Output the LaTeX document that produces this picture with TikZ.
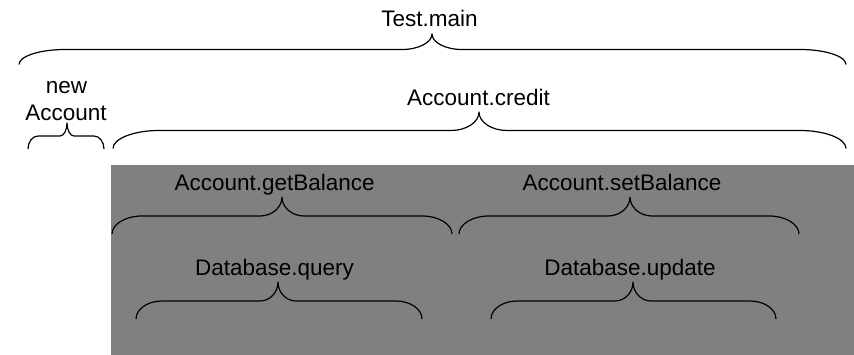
\documentclass[tikz,border=0pt]{standalone}
\usepackage{fontspec}
\setmainfont{Liberation Sans}
\tikzset{
  bracestyle/.style={draw=black, line width=1.2pt, line join=round},
  calllabel/.style={anchor=base, inner sep=0pt, font=\fontsize{22.5}{27}\selectfont},
}
% Curly brace opening downwards.
% #1 left x, #2 right x, #3 tip x, #4 tip y, #5 bar y, #6 end y,
% #7 width of the end curls, #8 width of the tip curls
\newcommand{\callbrace}[8]{%
  \draw[bracestyle] (#1,#6)
    .. controls (#1,{#6-0.55*(#6-#5)}) and ({#1+0.45*#7},#5) .. ({#1+#7},#5)
    -- ({#3-#8},#5)
    .. controls ({#3-0.45*#8},#5) and (#3,{#4+0.55*(#5-#4)}) .. (#3,#4)
    .. controls (#3,{#4+0.55*(#5-#4)}) and ({#3+0.45*#8},#5) .. ({#3+#8},#5)
    -- ({#2-#7},#5)
    .. controls ({#2-0.45*#7},#5) and (#2,{#6-0.55*(#6-#5)}) .. (#2,#6);}
\begin{document}
\begin{tikzpicture}[x=1pt, y=-1pt]
  \useasboundingbox (0,0) rectangle (854,355);
  % shaded region of the nested calls
  \fill[fill={rgb,255:red,128;green,128;blue,128}] (111,165) rectangle (854,355);

  % call labels
  \node[calllabel] (main) at (429.5,27) {Test.main};
  \node[calllabel] (newl) at (66.5,94) {new};
  \node[calllabel] (newacc) at (66,121) {Account};
  \node[calllabel] (credit) at (478.5,106) {Account.credit};
  \node[calllabel] (getbal) at (274.6,191) {Account.getBalance};
  \node[calllabel] (setbal) at (622,191) {Account.setBalance};
  \node[calllabel] (query) at (274.5,276) {Database.query};
  \node[calllabel] (update) at (630,276) {Database.update};

  % braces spanning each call
  \callbrace{19}{846}{432}{34}{49.5}{64.5}{46}{30}
  \callbrace{28}{104}{67}{123}{136}{149}{10}{7}
  \callbrace{113}{846}{479}{112}{130.5}{148.5}{46}{28}
  \callbrace{112}{452}{282}{197}{216}{234}{30}{22}
  \callbrace{459}{799}{630}{197}{216}{234}{30}{22}
  \callbrace{136}{422}{278}{282}{301}{319}{26}{18}
  \callbrace{491}{776}{633}{282}{301}{319}{26}{18}
\end{tikzpicture}
\end{document}
